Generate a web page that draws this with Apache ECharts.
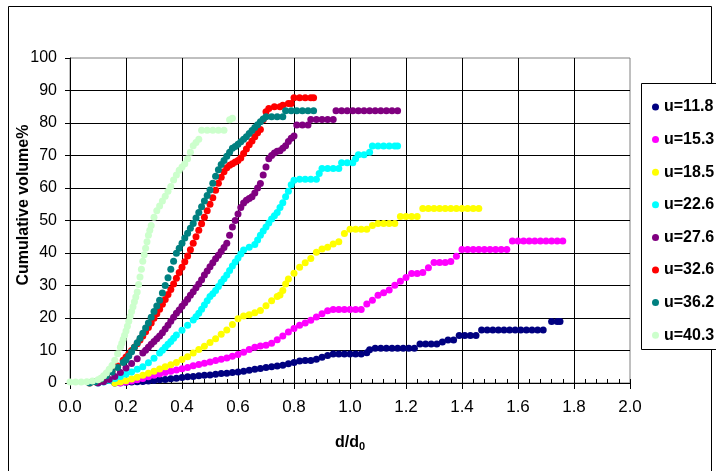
<!DOCTYPE html>
<html><head><meta charset="utf-8">
<script src="https://cdn.jsdelivr.net/npm/echarts@6/dist/echarts.min.js"></script>
<style>html,body{margin:0;padding:0;background:#fff}#c{width:716px;height:471px}</style>
</head><body><div id="c"></div>
<script>
const seriesNames = ['u=11.8','u=15.3','u=18.5','u=22.6','u=27.6','u=32.6','u=36.2','u=40.3'];
const seriesColors = ['#000080','#FF00FF','#FFFF00','#00FFFF','#800080','#FF0000','#008080','#CCFFCC'];
const xTicks = ['0.0','0.2','0.4','0.6','0.8','1.0','1.2','1.4','1.6','1.8','2.0'];

const u118 = [[0.16,0],[0.18,0.1],[0.20,0.2],[0.22,0.3],[0.24,0.4],[0.26,0.5],[0.28,0.6],[0.30,0.8],[0.32,1.0],[0.34,1.1],[0.36,1.3],[0.38,1.5],[0.40,1.7],[0.42,1.9],[0.44,2.0],[0.46,2.2],[0.48,2.4],[0.50,2.5],[0.52,2.7],[0.54,2.9],[0.56,3.0],[0.58,3.2],[0.60,3.4],[0.62,3.6],[0.64,3.9],[0.66,4.2],[0.68,4.5],[0.70,4.8],[0.72,5.0],[0.74,5.2],[0.76,5.5],[0.78,5.9],[0.80,6.3],[0.82,6.8],[0.84,6.9],[0.86,6.9],[0.88,7.3],[0.90,7.9],[0.92,8.5],[0.94,8.9],[0.96,8.9],[0.98,8.9],[1.00,8.9],[1.02,8.9],[1.04,8.9],[1.06,9.3],[1.07,10.2],[1.09,10.7],[1.11,10.7],[1.13,10.7],[1.15,10.7],[1.17,10.7],[1.19,10.7],[1.21,10.7],[1.23,10.7],[1.25,12.0],[1.27,12.0],[1.29,12.0],[1.31,12.0],[1.33,12.6],[1.35,13.2],[1.37,13.2],[1.39,14.6],[1.41,14.6],[1.43,14.6],[1.45,14.6],[1.47,16.3],[1.49,16.3],[1.51,16.3],[1.53,16.3],[1.55,16.3],[1.57,16.3],[1.59,16.3],[1.61,16.3],[1.63,16.3],[1.65,16.3],[1.67,16.3],[1.69,16.3],[1.72,18.9],[1.74,18.9],[1.75,18.9]];

const u153 = [[0.18,0],[0.20,0.3],[0.22,0.6],[0.24,1.0],[0.26,1.4],[0.28,1.9],[0.30,2.4],[0.32,2.8],[0.34,3.2],[0.36,3.6],[0.38,4.0],[0.40,4.4],[0.42,4.8],[0.44,5.3],[0.46,5.7],[0.48,6.1],[0.50,6.5],[0.52,6.9],[0.54,7.3],[0.56,7.7],[0.58,8.2],[0.60,8.8],[0.62,9.5],[0.64,10.3],[0.66,11.0],[0.68,11.4],[0.70,11.6],[0.72,12.2],[0.74,13.3],[0.76,14.5],[0.78,15.7],[0.80,16.8],[0.82,17.8],[0.84,18.5],[0.86,19.3],[0.88,20.3],[0.90,21.3],[0.92,22.2],[0.94,22.6],[0.96,22.6],[0.98,22.6],[1.00,22.6],[1.02,22.6],[1.04,22.6],[1.06,24.3],[1.08,25.5],[1.10,27.0],[1.12,27.8],[1.14,28.6],[1.16,30.1],[1.18,31.3],[1.20,32.5],[1.22,33.7],[1.24,33.7],[1.26,34.0],[1.28,35.5],[1.30,37.1],[1.32,37.1],[1.34,37.1],[1.36,37.4],[1.38,39.0],[1.40,41.1],[1.42,41.1],[1.44,41.1],[1.46,41.1],[1.48,41.1],[1.50,41.1],[1.52,41.1],[1.54,41.1],[1.56,41.1],[1.58,43.7],[1.60,43.7],[1.62,43.7],[1.64,43.7],[1.66,43.7],[1.68,43.7],[1.70,43.7],[1.72,43.7],[1.74,43.7],[1.76,43.7]];

const u185 = [[0.16,0],[0.18,0.3],[0.20,0.7],[0.22,1.2],[0.24,1.8],[0.26,2.4],[0.28,3.0],[0.30,3.6],[0.32,4.3],[0.34,5.0],[0.36,5.6],[0.38,6.3],[0.40,7.2],[0.42,8.1],[0.44,9.2],[0.46,10.3],[0.48,11.3],[0.50,12.5],[0.52,13.6],[0.54,15.0],[0.56,16.3],[0.58,18.0],[0.60,19.8],[0.62,20.6],[0.64,21.0],[0.66,21.6],[0.68,22.3],[0.70,23.8],[0.72,25.3],[0.74,26.6],[0.75,27.1],[0.76,28.5],[0.77,30.5],[0.78,32.0],[0.80,33.8],[0.82,35.6],[0.84,37.0],[0.86,38.3],[0.88,40.2],[0.90,41.2],[0.92,41.8],[0.94,42.8],[0.96,43.5],[0.98,46.0],[1.00,47.3],[1.02,47.3],[1.04,47.3],[1.06,47.3],[1.08,48.5],[1.10,49.1],[1.12,49.1],[1.14,49.1],[1.16,49.1],[1.18,51.2],[1.20,51.2],[1.22,51.2],[1.24,51.2],[1.26,53.7],[1.28,53.7],[1.30,53.7],[1.32,53.7],[1.34,53.7],[1.36,53.7],[1.38,53.7],[1.40,53.7],[1.42,53.7],[1.44,53.7],[1.46,53.7]];

const u226 = [[0.10,0],[0.12,0.3],[0.14,0.8],[0.16,1.4],[0.18,2.0],[0.20,2.7],[0.22,3.4],[0.24,4.2],[0.26,5.0],[0.28,6.2],[0.30,7.6],[0.32,9.2],[0.33,10.1],[0.34,11.0],[0.35,11.9],[0.36,12.8],[0.37,13.8],[0.38,14.8],[0.40,16.2],[0.42,17.8],[0.44,19.4],[0.45,20.4],[0.46,21.5],[0.47,22.7],[0.48,24.0],[0.49,25.3],[0.50,26.6],[0.51,27.5],[0.52,28.5],[0.53,29.7],[0.54,31.0],[0.55,32.1],[0.56,33.2],[0.57,34.6],[0.58,36.0],[0.59,37.2],[0.60,38.5],[0.61,39.7],[0.62,40.9],[0.64,41.8],[0.66,42.6],[0.67,44.0],[0.68,45.5],[0.69,46.8],[0.70,48.0],[0.71,49.2],[0.72,50.5],[0.73,51.5],[0.74,52.5],[0.75,54.0],[0.76,55.5],[0.77,57.3],[0.78,59.0],[0.79,61.0],[0.80,62.4],[0.82,62.7],[0.84,62.7],[0.86,62.7],[0.88,62.7],[0.89,64.5],[0.90,66.0],[0.92,66.0],[0.94,66.0],[0.96,66.0],[0.97,67.8],[0.99,67.8],[1.01,67.8],[1.02,69.0],[1.03,70.2],[1.05,70.2],[1.07,71.0],[1.08,72.9],[1.10,72.9],[1.12,72.9],[1.14,72.9],[1.16,72.9],[1.17,72.9]];

const u276 = [[0.10,0],[0.12,0.4],[0.14,1.1],[0.16,2.0],[0.18,3.2],[0.20,4.6],[0.22,6.0],[0.24,7.5],[0.26,9.2],[0.27,10.1],[0.28,11.0],[0.29,11.9],[0.30,12.8],[0.31,13.6],[0.32,14.5],[0.33,15.5],[0.34,16.6],[0.35,17.8],[0.36,19.0],[0.37,20.2],[0.38,21.5],[0.39,22.5],[0.40,23.6],[0.41,24.7],[0.42,25.8],[0.43,27.0],[0.44,28.1],[0.45,29.3],[0.46,30.5],[0.47,31.8],[0.48,33.2],[0.49,34.5],[0.50,35.8],[0.51,37.0],[0.52,38.2],[0.53,39.3],[0.54,40.5],[0.55,41.7],[0.56,43.0],[0.57,45.5],[0.58,48.0],[0.59,50.0],[0.60,52.0],[0.61,54.0],[0.62,55.4],[0.63,56.2],[0.64,56.8],[0.65,57.3],[0.66,58.5],[0.67,60.0],[0.68,61.4],[0.69,64.0],[0.70,66.5],[0.71,69.0],[0.72,70.0],[0.73,70.8],[0.74,71.3],[0.75,71.5],[0.76,72.2],[0.77,73.0],[0.78,74.3],[0.79,75.3],[0.80,76.0],[0.81,79.4],[0.83,79.4],[0.85,79.4],[0.86,81.1],[0.88,81.1],[0.90,81.1],[0.92,81.1],[0.94,81.1],[0.95,83.8],[0.97,83.8],[0.99,83.8],[1.01,83.8],[1.03,83.8],[1.05,83.8],[1.07,83.8],[1.09,83.8],[1.11,83.8],[1.13,83.8],[1.15,83.8],[1.17,83.8]];

const u326 = [[0.07,0],[0.09,0.4],[0.11,1.2],[0.13,2.3],[0.15,3.6],[0.17,5.2],[0.19,7.0],[0.20,8.0],[0.21,9.0],[0.22,10.0],[0.23,11.0],[0.24,12.1],[0.25,13.2],[0.26,14.5],[0.27,15.8],[0.28,17.1],[0.29,18.5],[0.30,19.9],[0.31,21.3],[0.32,22.7],[0.33,24.2],[0.34,25.7],[0.35,27.2],[0.36,28.8],[0.37,30.5],[0.38,32.2],[0.39,34.0],[0.40,35.6],[0.41,37.3],[0.42,39.1],[0.43,41.0],[0.44,43.0],[0.45,45.0],[0.46,47.0],[0.47,49.0],[0.48,51.0],[0.49,53.0],[0.50,55.0],[0.51,57.0],[0.52,59.3],[0.53,61.5],[0.54,63.3],[0.55,65.0],[0.56,66.2],[0.57,67.0],[0.58,67.5],[0.59,68.0],[0.60,68.5],[0.61,69.2],[0.62,70.6],[0.63,72.0],[0.64,73.3],[0.65,74.5],[0.66,75.8],[0.67,77.0],[0.68,78.0],[0.69,81.0],[0.70,83.5],[0.71,84.5],[0.73,85.0],[0.75,85.0],[0.76,85.5],[0.78,86.0],[0.79,86.0],[0.80,87.8],[0.82,87.8],[0.84,87.8],[0.86,87.8],[0.87,87.8]];

const u362 = [[0.07,0],[0.09,0.4],[0.11,1.2],[0.13,2.2],[0.15,3.4],[0.17,4.8],[0.19,6.3],[0.20,7.1],[0.21,8.3],[0.22,9.6],[0.23,11.0],[0.24,12.4],[0.25,13.8],[0.26,15.3],[0.27,16.9],[0.28,18.5],[0.29,20.2],[0.30,22.0],[0.31,23.7],[0.32,25.5],[0.33,27.7],[0.34,30.0],[0.35,32.4],[0.36,35.0],[0.37,37.5],[0.38,39.9],[0.39,41.5],[0.40,43.0],[0.41,44.6],[0.42,46.1],[0.43,47.6],[0.44,49.1],[0.45,50.8],[0.46,52.5],[0.47,54.2],[0.48,56.0],[0.49,57.7],[0.50,59.4],[0.51,61.5],[0.52,63.6],[0.53,65.6],[0.54,67.2],[0.55,68.5],[0.56,69.8],[0.57,71.0],[0.58,72.2],[0.59,72.8],[0.60,73.5],[0.61,74.2],[0.62,75.0],[0.63,75.8],[0.64,76.8],[0.65,77.7],[0.66,78.6],[0.67,79.5],[0.68,80.4],[0.69,81.2],[0.70,81.9],[0.72,81.9],[0.74,81.9],[0.76,81.9],[0.77,83.8],[0.79,83.8],[0.81,83.8],[0.83,83.8],[0.85,83.8],[0.87,83.8]];

const u403 = [[0.00,0.3],[0.02,0.3],[0.04,0.3],[0.06,0.4],[0.08,0.6],[0.10,1.0],[0.11,1.5],[0.12,2.2],[0.13,3.1],[0.14,4.2],[0.15,5.4],[0.16,7.0],[0.17,9.0],[0.18,11.0],[0.185,12.2],[0.19,13.5],[0.195,14.7],[0.20,16.0],[0.205,17.5],[0.21,19.0],[0.215,20.5],[0.22,22.0],[0.225,23.5],[0.23,25.0],[0.235,26.5],[0.24,28.0],[0.245,30.3],[0.25,32.6],[0.255,35.0],[0.26,37.5],[0.265,39.5],[0.27,41.5],[0.275,43.5],[0.28,45.5],[0.285,47.0],[0.29,48.5],[0.30,51.0],[0.31,53.0],[0.32,54.5],[0.33,56.0],[0.34,57.5],[0.35,59.0],[0.36,60.5],[0.37,62.5],[0.38,64.0],[0.39,65.5],[0.40,66.5],[0.41,67.5],[0.42,69.0],[0.43,71.0],[0.44,73.0],[0.45,74.0],[0.46,75.0],[0.47,77.8],[0.49,77.8],[0.51,77.8],[0.53,77.8],[0.55,77.8],[0.57,81.0],[0.58,81.5]];

const seriesData = [u118,u153,u185,u226,u276,u326,u362,u403];

const FONT = '"Liberation Sans", Arial, sans-serif';
const chart = echarts.init(document.getElementById('c'), null, {renderer:'canvas'});
const option = {
  animation: false,
  backgroundColor: '#ffffff',
  grid: {left: 70, top: 58, right: 86, bottom: 88, show: true, borderColor: '#808080', borderWidth: 1, backgroundColor: '#ffffff'},
  xAxis: [{
    type: 'value', min: 0, max: 2, interval: 0.2, position: 'bottom',
    axisLine: {show: true, onZero: false, lineStyle: {color: '#000', width: 1}},
    axisTick: {show: true, inside: false, length: 6, lineStyle: {color: '#000'}},
    minorTick: {show: false},
    axisLabel: {margin: 16, color: '#000', fontSize: 17, fontFamily: FONT,
      formatter: function(v){ const i = Math.round(v/0.2); return xTicks[i] !== undefined ? xTicks[i] : ''; }},
    splitLine: {show: true, showMaxLine: false, showMinLine: false, lineStyle: {color: '#000', width: 1}}
  },{
    type: 'value', min: 0, max: 2, interval: 0.2, position: 'bottom', gridIndex: 0,
    axisLine: {show: false},
    axisTick: {show: true, inside: true, length: 4, lineStyle: {color: '#000'}},
    minorTick: {show: true, splitNumber: 5, length: 4, lineStyle: {color: '#000'}},
    axisLabel: {show: false},
    splitLine: {show: false}
  }],
  yAxis: {
    type: 'value', min: 0, max: 100, interval: 10,
    axisLine: {show: true, onZero: false, lineStyle: {color: '#000', width: 1}},
    axisTick: {show: true, inside: false, length: 5, lineStyle: {color: '#000'}},
    axisLabel: {margin: 13, color: '#000', fontSize: 16, fontFamily: FONT},
    splitLine: {show: true, showMaxLine: false, showMinLine: false, lineStyle: {color: '#000', width: 1}}
  },
  legend: {
    orient: 'vertical', left: 647, top: 94,
    itemWidth: 7, itemHeight: 7, itemGap: 16.6, icon: 'circle',
    textStyle: {fontSize: 16, fontWeight: 'bold', color: '#000', fontFamily: FONT, lineHeight: 16},
    data: seriesNames
  },
  graphic: [
    {type: 'rect', silent: true, z: -1, shape: {x: 8.5, y: 6.5, width: 703, height: 490}, style: {fill: 'none', stroke: '#000', lineWidth: 1}},
    {type: 'rect', silent: true, z: -1, shape: {x: 641.5, y: 83.5, width: 120, height: 266}, style: {fill: '#fff', stroke: '#000', lineWidth: 1}},
    {type: 'text', silent: true, x: 24, y: 205, rotation: Math.PI/2,
      style: {text: 'Cumulative volume%', fontSize: 16, fontWeight: 'bold', fontFamily: FONT, fill: '#000', align: 'center', verticalAlign: 'middle'}},
    {type: 'text', silent: true, x: 350, y: 443,
      style: {text: '{a|d/d}{b|0}', align: 'center', verticalAlign: 'middle', fill: '#000',
        rich: {a: {fontSize: 16, fontWeight: 'bold', fontFamily: FONT}, b: {fontSize: 11, fontWeight: 'bold', fontFamily: FONT, padding: [8,0,0,0]}}}}
  ],
  series: seriesNames.map(function(n, i){
    return {name: n, type: 'scatter', xAxisIndex: 0, symbol: 'circle', symbolSize: 7,
      itemStyle: {color: seriesColors[i], opacity: 1}, data: seriesData[i], z: 2 + i};
  })
};
chart.setOption(option);
</script></body></html>
